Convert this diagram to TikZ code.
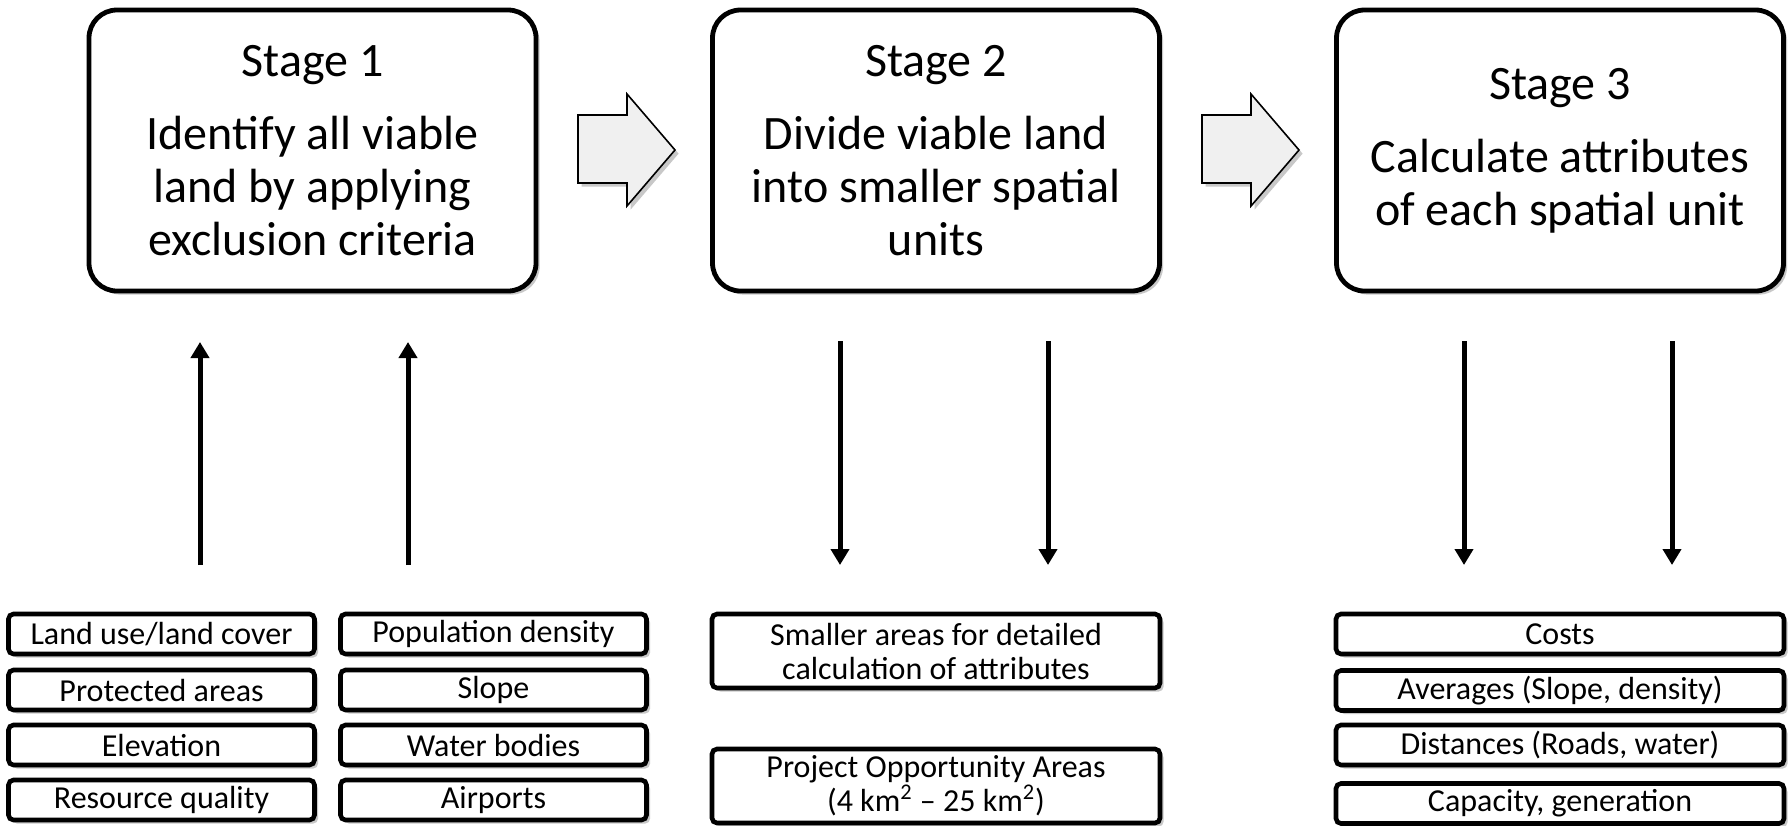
\documentclass[tikz,border=0pt]{standalone}
\usepackage{fontspec}
\setmainfont{Carlito}
\usetikzlibrary{arrows.meta,shadows}
\begin{document}
\begin{tikzpicture}[x=0.5pt,y=-0.5pt]
\tikzset{
  softshadow/.style={drop shadow={shadow xshift=1.8pt,shadow yshift=-1.8pt,opacity=0.3,fill=black!70}},
  stagebox/.style={draw,line width=2.4pt,rounded corners=14pt,fill=white,minimum width=223.5pt,minimum height=140.5pt,align=center,inner sep=0pt,font=\fontsize{24pt}{26.5pt}\selectfont,softshadow},
  itembox/.style={draw,line width=2.3pt,rounded corners=2.5pt,fill=white,minimum width=153pt,minimum height=20pt,align=center,inner sep=0pt,font=\fontsize{16pt}{17pt}\selectfont,softshadow},
  widebox/.style={itembox,minimum width=224pt},
  flowarrow/.style={line width=2.5pt,-{Triangle[width=9pt,length=8pt]}},
  blockarrow/.style={draw,line width=0.8pt,fill=black!6,line join=miter,softshadow},
}
\useasboundingbox[fill=white] (0,0) rectangle (1792,825);

% stage boxes
\node[stagebox] (s1) at (312.5,150.5) {Stage 1\\[10pt]Identify all viable\\land by applying\\exclusion criteria};
\node[stagebox] (s2) at (936,150.5) {Stage 2\\[10pt]Divide viable land\\into smaller spatial\\units};
\node[stagebox] (s3) at (1560,150.5) {Stage 3\\[10pt]Calculate attributes\\of each spatial unit};

% block arrows
\path[blockarrow] (578,115) -- (627,115) -- (627,94) -- (675,150) -- (627,206) -- (627,183) -- (578,183) -- cycle;
\path[blockarrow] (1202,115) -- (1251,115) -- (1251,94) -- (1299,150) -- (1251,206) -- (1251,183) -- (1202,183) -- cycle;

% stage 1 inputs
\node[itembox] (l1) at (161.5,634) {Land use/land cover};
\node[itembox] (l2) at (161.5,690) {Protected areas};
\node[itembox] (l3) at (161.5,745) {Elevation};
\node[itembox] (l4) at (161.5,800) {Resource quality};
\node[itembox] (r1) at (493.5,634) {Population density};
\node[itembox] (r2) at (493.5,690) {Slope};
\node[itembox] (r3) at (493.5,745) {Water bodies};
\node[itembox] (r4) at (493.5,800) {Airports};

% stage 2 outputs
\node[widebox,minimum height=37pt] (m1) at (936,651) {Smaller areas for detailed\\calculation of attributes};
\node[widebox,minimum height=37pt] (m2) at (936,786) {Project Opportunity Areas\\(4 km\textsuperscript{2} \textendash{} 25 km\textsuperscript{2})};

% stage 3 outputs
\node[widebox] (c1) at (1560,634) {Costs};
\node[widebox] (c2) at (1560,690.5) {Averages (Slope, density)};
\node[widebox] (c3) at (1560,745) {Distances (Roads, water)};
\node[widebox] (c4) at (1560,803.5) {Capacity, generation};

% vertical arrows
\coordinate (u1s) at (200,565); \coordinate (u1e) at (200,342);
\coordinate (u2s) at (408,565); \coordinate (u2e) at (408,342);
\coordinate (d1s) at (840,341); \coordinate (d1e) at (840,565);
\coordinate (d2s) at (1048,341); \coordinate (d2e) at (1048,565);
\coordinate (d3s) at (1464,341); \coordinate (d3e) at (1464,565);
\coordinate (d4s) at (1672,341); \coordinate (d4e) at (1672,565);
\draw[flowarrow] (u1s) -- (u1e);
\draw[flowarrow] (u2s) -- (u2e);
\draw[flowarrow] (d1s) -- (d1e);
\draw[flowarrow] (d2s) -- (d2e);
\draw[flowarrow] (d3s) -- (d3e);
\draw[flowarrow] (d4s) -- (d4e);
\end{tikzpicture}
\end{document}
